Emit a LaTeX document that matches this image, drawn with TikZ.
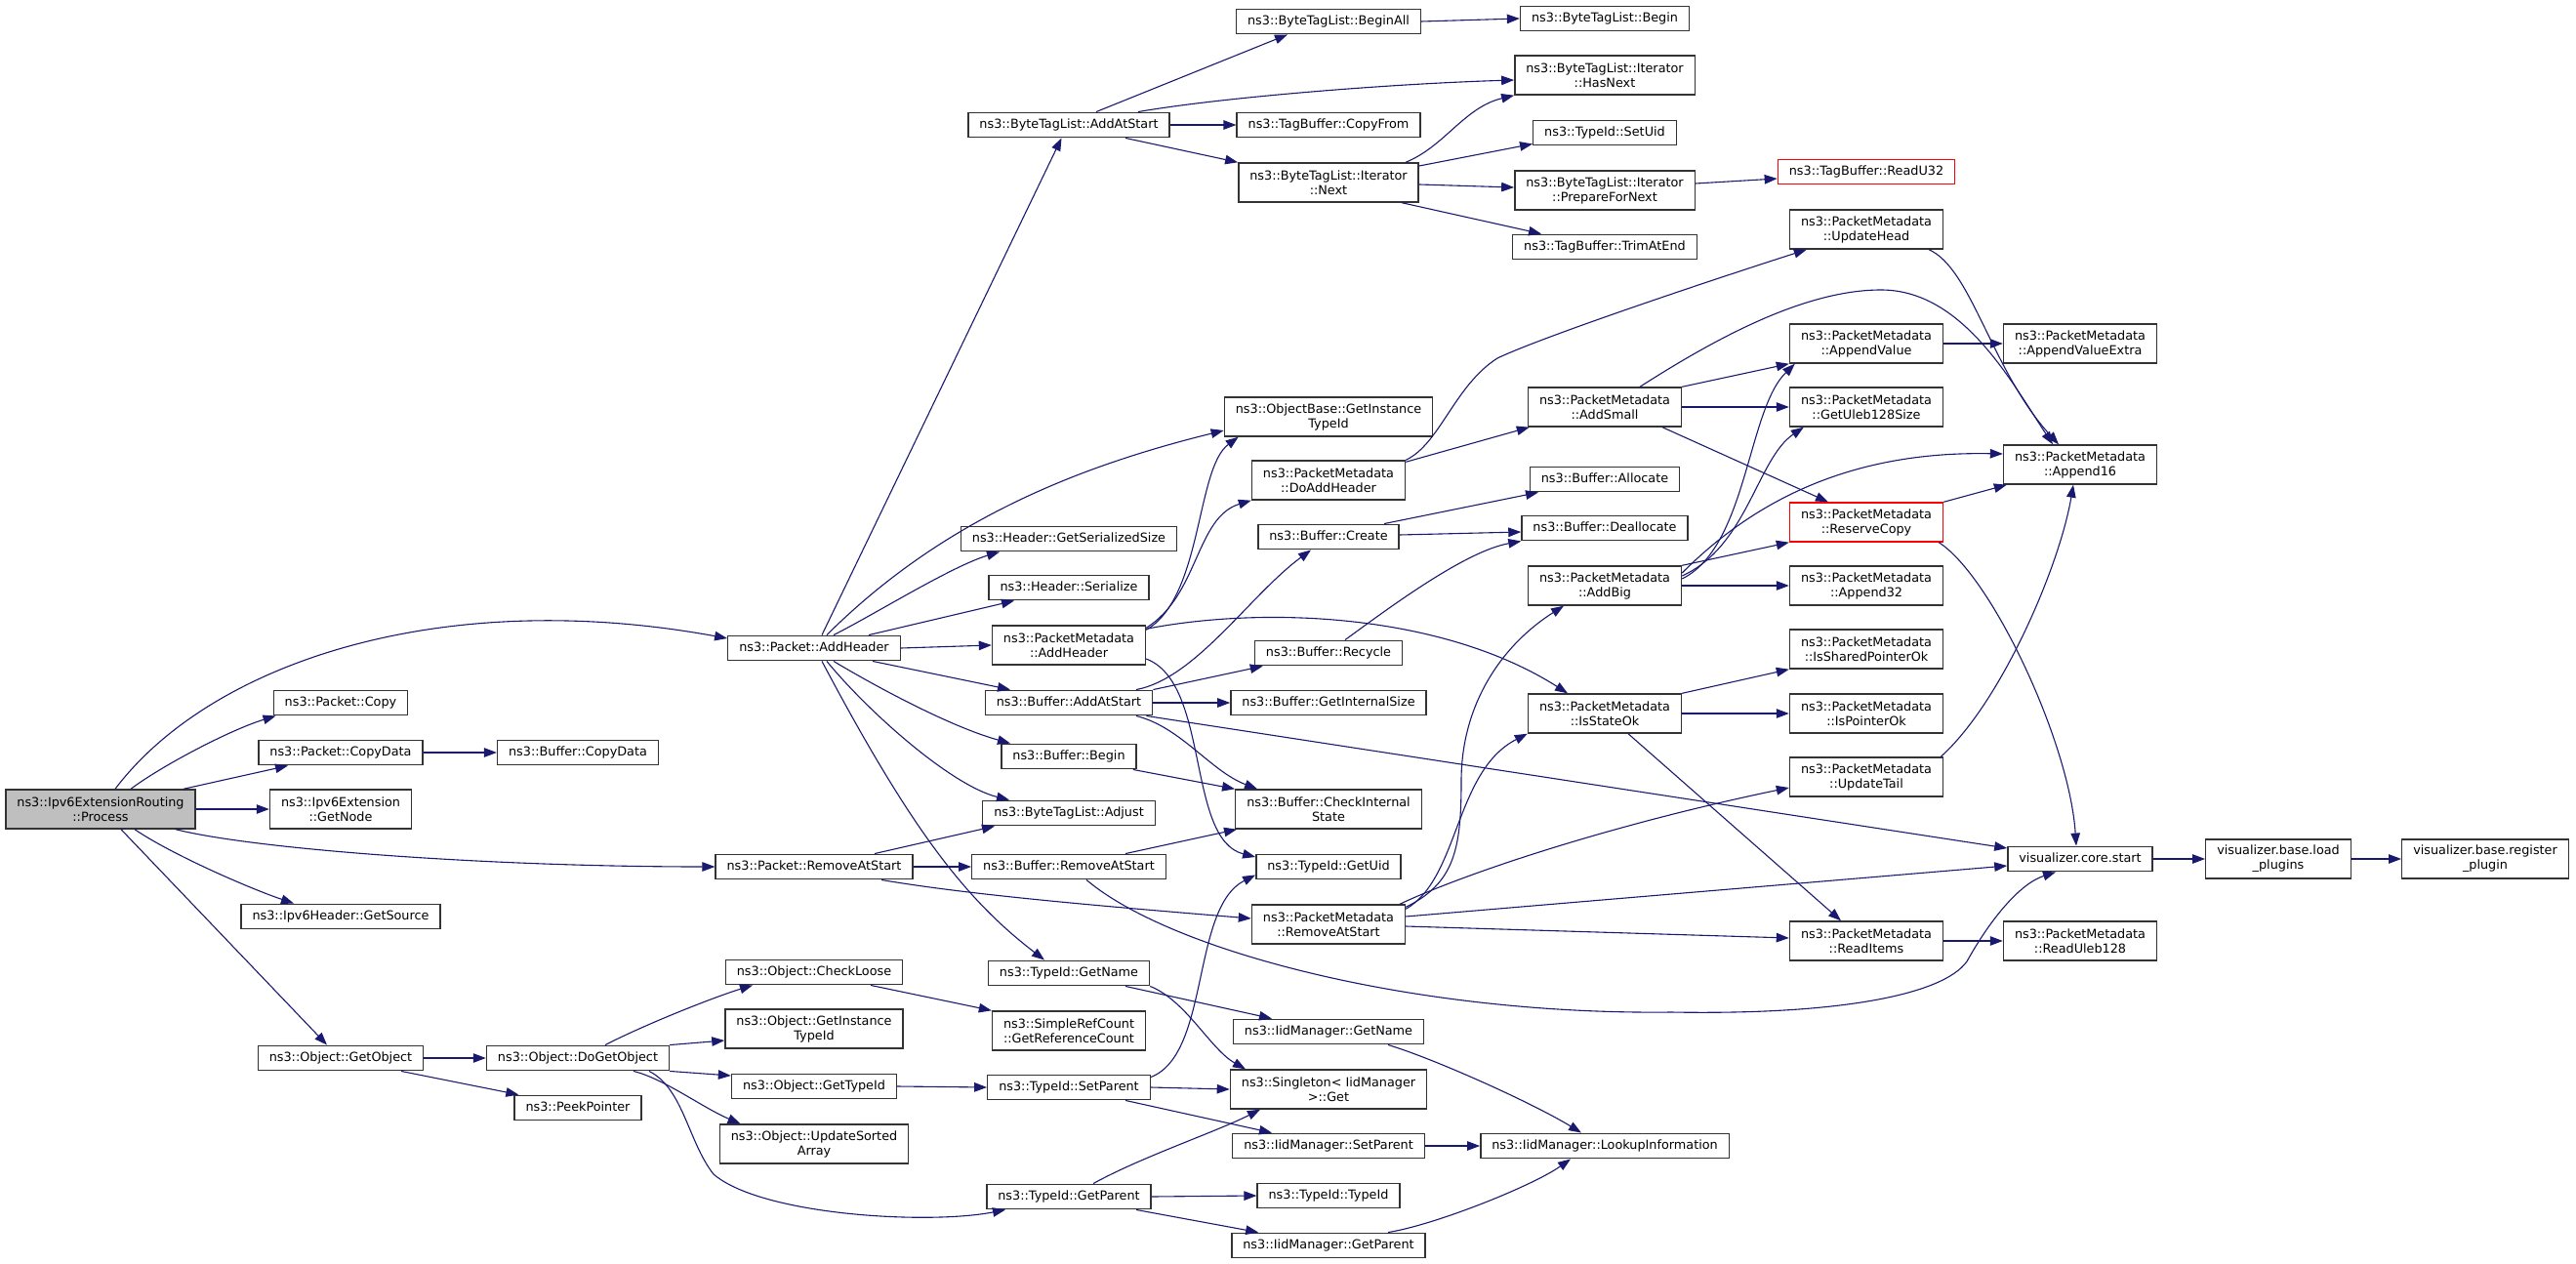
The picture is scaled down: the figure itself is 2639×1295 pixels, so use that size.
\documentclass[tikz,border=0pt]{standalone}
\usepackage{fontspec}
\setmainfont{DejaVu Sans}
\usetikzlibrary{arrows.meta}
\definecolor{edgeblue}{HTML}{191970}
\definecolor{rootgray}{HTML}{BFBFBF}
\definecolor{boxline}{HTML}{333333}
\newcommand{\fnfont}{\fontsize{12.8}{15}\selectfont}

\begin{document}
\begin{tikzpicture}[x=1pt,y=-1pt,>={Triangle[length=13pt,width=9.5pt]},
  fbox/.style={draw=boxline,line width=1.4pt,fill=white,font=\fnfont,align=center,inner xsep=11.5pt,inner ysep=0pt},
  func/.style={fbox,minimum height=25.5pt,text height=9.6pt,text depth=3pt},
  func2/.style={fbox,minimum height=40pt},
  root/.style={func2,fill=rootgray},
  trunc/.style={draw=red},
  call/.style={->,draw=edgeblue,line width=1.1pt}]
\useasboundingbox (0,0) rectangle (2639,1295);

\node[root] (process) at (103,829) {ns3::Ipv6ExtensionRouting\\::Process};

\node[func] (pcopy) at (349,720) {ns3::Packet::Copy};
\node[func] (pcopydata) at (349,771) {ns3::Packet::CopyData};
\node[func2] (getnode) at (349,829) {ns3::Ipv6Extension\\::GetNode};
\node[func] (getsource) at (349,939) {ns3::Ipv6Header::GetSource};
\node[func] (getobject) at (349,1084) {ns3::Object::GetObject};

\node[func] (bcopydata) at (592,771) {ns3::Buffer::CopyData};
\node[func] (dogetobject) at (592,1084) {ns3::Object::DoGetObject};
\node[func] (peekptr) at (592,1135) {ns3::PeekPointer};

\node[func] (paddheader) at (834,664) {ns3::Packet::AddHeader};
\node[func] (premove) at (834,888) {ns3::Packet::RemoveAtStart};
\node[func] (checkloose) at (834,996) {ns3::Object::CheckLoose};
\node[func2] (ogetinst) at (834,1054) {ns3::Object::GetInstance\\TypeId};
\node[func] (ogettypeid) at (834,1113) {ns3::Object::GetTypeId};
\node[func2] (updsorted) at (834,1172) {ns3::Object::UpdateSorted\\Array};

\node[func] (btladdstart) at (1095,128) {ns3::ByteTagList::AddAtStart};
\node[func] (hgetser) at (1095,552) {ns3::Header::GetSerializedSize};
\node[func] (hser) at (1095,602) {ns3::Header::Serialize};
\node[func2] (pmaddheader) at (1095,661) {ns3::PacketMetadata\\::AddHeader};
\node[func] (baddstart) at (1095,720) {ns3::Buffer::AddAtStart};
\node[func] (bbegin) at (1095,775) {ns3::Buffer::Begin};
\node[func] (btladjust) at (1095,833) {ns3::ByteTagList::Adjust};
\node[func] (bremove) at (1095,888) {ns3::Buffer::RemoveAtStart};
\node[func] (tgetname) at (1095,997) {ns3::TypeId::GetName};
\node[func2] (refcount) at (1095,1056) {ns3::SimpleRefCount\\::GetReferenceCount};
\node[func] (tsetparent) at (1095,1114) {ns3::TypeId::SetParent};
\node[func] (tgetparent) at (1095,1226) {ns3::TypeId::GetParent};

\node[func] (beginall) at (1361,22) {ns3::ByteTagList::BeginAll};
\node[func] (copyfrom) at (1361,128) {ns3::TagBuffer::CopyFrom};
\node[func2] (itnext) at (1361,187) {ns3::ByteTagList::Iterator\\::Next};
\node[func2] (obgetinst) at (1361,427) {ns3::ObjectBase::GetInstance\\TypeId};
\node[func2] (doaddheader) at (1361,492) {ns3::PacketMetadata\\::DoAddHeader};
\node[func] (bcreate) at (1361,550) {ns3::Buffer::Create};
\node[func] (brecycle) at (1361,669) {ns3::Buffer::Recycle};
\node[func] (bgetint) at (1361,720) {ns3::Buffer::GetInternalSize};
\node[func2] (bcheck) at (1361,829) {ns3::Buffer::CheckInternal\\State};
\node[func] (tgetuid) at (1361,888) {ns3::TypeId::GetUid};
\node[func2] (pmremove) at (1361,947) {ns3::PacketMetadata\\::RemoveAtStart};
\node[func] (iidgetname) at (1361,1057) {ns3::IidManager::GetName};
\node[func2] (singleton) at (1361,1116) {ns3::Singleton< IidManager\\>::Get};
\node[func] (iidsetparent) at (1361,1174) {ns3::IidManager::SetParent};
\node[func] (ttypeid) at (1361,1225) {ns3::TypeId::TypeId};
\node[func] (iidgetparent) at (1361,1276) {ns3::IidManager::GetParent};

\node[func] (btlbegin) at (1644,19) {ns3::ByteTagList::Begin};
\node[func2] (hasnext) at (1644,77) {ns3::ByteTagList::Iterator\\::HasNext};
\node[func] (setuid) at (1644,136) {ns3::TypeId::SetUid};
\node[func2] (prepnext) at (1644,195) {ns3::ByteTagList::Iterator\\::PrepareForNext};
\node[func] (trimend) at (1644,253) {ns3::TagBuffer::TrimAtEnd};
\node[func2] (addsmall) at (1644,417) {ns3::PacketMetadata\\::AddSmall};
\node[func] (ballocate) at (1644,491) {ns3::Buffer::Allocate};
\node[func] (bdealloc) at (1644,541) {ns3::Buffer::Deallocate};
\node[func2] (addbig) at (1644,600) {ns3::PacketMetadata\\::AddBig};
\node[func2] (isstateok) at (1644,731) {ns3::PacketMetadata\\::IsStateOk};
\node[func] (lookup) at (1644,1174) {ns3::IidManager::LookupInformation};

\node[func,trunc] (readu32) at (1912,176) {ns3::TagBuffer::ReadU32};
\node[func2] (updhead) at (1912,235) {ns3::PacketMetadata\\::UpdateHead};
\node[func2] (appvalue) at (1912,352) {ns3::PacketMetadata\\::AppendValue};
\node[func2] (getuleb) at (1912,417) {ns3::PacketMetadata\\::GetUleb128Size};
\node[func2,trunc] (reserve) at (1912,535) {ns3::PacketMetadata\\::ReserveCopy};
\node[func2] (append32) at (1912,600) {ns3::PacketMetadata\\::Append32};
\node[func2] (isshared) at (1912,665) {ns3::PacketMetadata\\::IsSharedPointerOk};
\node[func2] (isptrok) at (1912,731) {ns3::PacketMetadata\\::IsPointerOk};
\node[func2] (updtail) at (1912,796) {ns3::PacketMetadata\\::UpdateTail};
\node[func2] (readitems) at (1912,964) {ns3::PacketMetadata\\::ReadItems};

\node[func2] (appvalextra) at (2131,352) {ns3::PacketMetadata\\::AppendValueExtra};
\node[func2] (append16) at (2131,476) {ns3::PacketMetadata\\::Append16};
\node[func] (vstart) at (2131,880) {visualizer.core.start};
\node[func2] (readuleb) at (2131,964) {ns3::PacketMetadata\\::ReadUleb128};

\node[func2] (vload) at (2334,880) {visualizer.base.load\\\_plugins};
\node[func2] (vregister) at (2546,880) {visualizer.base.register\\\_plugin};

\draw[call] ([xshift=15pt]process.north) .. controls (215,680) and (450,600) .. ([yshift=10pt]paddheader.west);
\draw[call] ([xshift=31pt]process.north) .. controls (165,785) and (235,748) .. ([xshift=3pt]pcopy.south west);
\draw[call] ([xshift=85pt]process.north) -- ([xshift=-54pt]pcopydata.south);
\draw[call] (process.east) -- (getnode.west);
\draw[call] ([xshift=77pt]process.south) .. controls (260,870) and (500,888) .. (premove.west);
\draw[call] ([xshift=35pt]process.south) .. controls (175,875) and (255,910) .. ([xshift=-48pt]getsource.north);
\draw[call] ([xshift=21pt]process.south) -- ([xshift=-14pt]getobject.north);
\draw[call] (pcopydata.east) -- (bcopydata.west);

\draw[call] ([xshift=8pt]paddheader.north) -- ([xshift=-7.5pt]btladdstart.south);
\draw[call] ([xshift=13pt]paddheader.north) .. controls (967,531) and (1108,477) .. ([yshift=-14pt]obgetinst.west);
\draw[call] ([xshift=20pt]paddheader.north) .. controls (895,630) and (975,580) .. ([xshift=-71pt]hgetser.south);
\draw[call] ([xshift=56pt]paddheader.north) -- ([xshift=-56pt]hser.south);
\draw[call] (paddheader.east) -- (pmaddheader.west);
\draw[call] ([xshift=60pt]paddheader.south) -- ([xshift=-60pt]baddstart.north);
\draw[call] ([xshift=20pt]paddheader.south) .. controls (900,705) and (975,745) .. ([xshift=-60pt]bbegin.north);
\draw[call] ([xshift=13pt]paddheader.south) .. controls (890,730) and (975,805) .. ([xshift=-61pt]btladjust.north);
\draw[call] ([xshift=8pt]paddheader.south) .. controls (935,853) and (990,922) .. ([xshift=-25pt]tgetname.north);

\draw[call] ([xshift=62pt]premove.north) -- ([xshift=-76pt]btladjust.south);
\draw[call] (premove.east) -- (bremove.west);
\draw[call] ([xshift=69pt]premove.south) .. controls (1000,918) and (1150,930) .. ([yshift=6pt]pmremove.west);
\draw[call] ([xshift=58pt]bremove.north) -- ([xshift=2pt]bcheck.south west);
\draw[call] ([xshift=18pt]bremove.south) .. controls (1200,975) and (1450,1040) .. (1712,1037) .. controls (1880,1040) and (1990,1020) .. (2015,985) .. controls (2040,940) and (2070,905) .. ([xshift=-25pt]vstart.south);

\draw[call] ([xshift=28pt]btladdstart.north) -- ([xshift=-42pt]beginall.south);
\draw[call] ([xshift=71pt]btladdstart.north) .. controls (1250,100) and (1420,86) .. ([yshift=-5pt]hasnext.west);
\draw[call] (btladdstart.east) -- (copyfrom.west);
\draw[call] ([xshift=58pt]btladdstart.south) -- (itnext.north west);
\draw[call] (beginall.east) -- (btlbegin.west);
\draw[call] ([xshift=79pt]itnext.north) .. controls (1480,150) and (1500,110) .. (hasnext.south west);
\draw[call] ([yshift=17pt]itnext.east) -- ([yshift=2pt]setuid.south west);
\draw[call] ([yshift=-2pt]itnext.east) -- ([yshift=3pt]prepnext.west);
\draw[call] ([xshift=75pt]itnext.south) -- ([xshift=-65pt]trimend.north);
\draw[call] ([yshift=7pt]prepnext.east) -- ([yshift=-7pt]readu32.west);

\draw[call] ([yshift=-5pt]pmaddheader.north east) .. controls (1232,612) and (1225,480) .. ([xshift=15pt]obgetinst.south west);
\draw[call] ([yshift=-3pt]pmaddheader.north east) .. controls (1228,610) and (1225,530) .. (doaddheader.south west);
\draw[call] ([yshift=-4pt]pmaddheader.north east) .. controls (1300,620) and (1480,630) .. ([xshift=-38pt]isstateok.north);
\draw[call] ([yshift=-14pt]pmaddheader.east) .. controls (1240,700) and (1215,860) .. ([yshift=10pt]tgetuid.west);

\draw[call] ([xshift=69pt]baddstart.north) .. controls (1225,695) and (1280,610) .. ([xshift=-18pt]bcreate.south);
\draw[call] (baddstart.north east) -- ([xshift=9pt]brecycle.south west);
\draw[call] (baddstart.east) -- (bgetint.west);
\draw[call] ([xshift=69pt]baddstart.south) .. controls (1210,745) and (1240,790) .. ([xshift=23pt]bcheck.north west);
\draw[call] ([xshift=-7pt]baddstart.south east) -- ([yshift=11pt]vstart.west);
\draw[call] ([xshift=-4pt]bbegin.south east) -- (bcheck.north west);

\draw[call] ([xshift=57pt]bcreate.north) -- ([xshift=-68pt]ballocate.south);
\draw[call] ([yshift=2pt]bcreate.east) -- ([yshift=-4pt]bdealloc.west);
\draw[call] ([xshift=17pt]brecycle.north) .. controls (1420,625) and (1500,565) .. (bdealloc.south west);

\draw[call] (doaddheader.north east) .. controls (1475,455) and (1490,395) .. (1534,367) .. controls (1580,345) and (1750,288) .. ([xshift=18pt]updhead.south west);
\draw[call] ([yshift=-2pt]doaddheader.north east) -- ([xshift=2pt]addsmall.south west);

\draw[call] (addsmall.north east) -- (appvalue.south west);
\draw[call] (addsmall.east) -- (getuleb.west);
\draw[call] ([xshift=59pt]addsmall.south) -- ([xshift=-39pt]reserve.north);
\draw[call] ([xshift=36pt]addsmall.north) .. controls (1760,345) and (1850,297) .. (1927,297) .. controls (2010,297) and (2060,390) .. ([xshift=-28pt]append16.north);
\draw[call] ([xshift=64pt]updhead.south) .. controls (2020,275) and (2040,380) .. ([xshift=-22pt]append16.north);
\draw[call] (appvalue.east) -- (appvalextra.west);
\draw[call] (reserve.north east) -- ([xshift=4pt]append16.south west);
\draw[call] ([xshift=-5pt]reserve.south east) .. controls (2040,590) and (2120,760) .. ([xshift=-4pt]vstart.north);

\draw[call] ([yshift=7pt]addbig.east) .. controls (1790,560) and (1790,420) .. ([xshift=6pt]appvalue.south west);
\draw[call] ([yshift=10pt]addbig.east) .. controls (1790,560) and (1800,470) .. ([xshift=15pt]getuleb.south west);
\draw[call] ([yshift=13pt]addbig.east) .. controls (1800,510) and (1900,462) .. ([yshift=11pt]append16.west);
\draw[call] (addbig.north east) -- (reserve.south west);
\draw[call] (addbig.east) -- (append32.west);

\draw[call] (isstateok.north east) -- (isshared.south west);
\draw[call] (isstateok.east) -- (isptrok.west);
\draw[call] ([xshift=24pt]isstateok.south) -- ([xshift=-26pt]readitems.north);
\draw[call] ([xshift=-3pt]updtail.north east) .. controls (2050,720) and (2110,580) .. ([xshift=-7pt]append16.south);

\draw[call] ([yshift=-3pt]pmremove.north east) .. controls (1490,905) and (1497,870) .. (1497,800) .. controls (1497,720) and (1540,660) .. ([xshift=-42pt]addbig.south);
\draw[call] ([yshift=-5pt]pmremove.north east) .. controls (1495,900) and (1490,790) .. (isstateok.south west);
\draw[call] ([xshift=73pt]pmremove.north) .. controls (1500,895) and (1650,845) .. ([yshift=-11pt]updtail.west);
\draw[call] ([yshift=8pt]pmremove.east) -- ([yshift=-7pt]vstart.west);
\draw[call] ([yshift=-2pt]pmremove.east) -- ([yshift=3pt]readitems.west);
\draw[call] (readitems.east) -- (readuleb.west);
\draw[call] (vstart.east) -- (vload.west);
\draw[call] (vload.east) -- (vregister.west);

\draw[call] (getobject.east) -- (dogetobject.west);
\draw[call] ([xshift=62pt]getobject.south) -- ([xshift=5pt]peekptr.north west);
\draw[call] ([xshift=28pt]dogetobject.north) .. controls (660,1050) and (730,1022) .. ([xshift=-63pt]checkloose.south);
\draw[call] (dogetobject.north east) -- ([yshift=-12pt]ogetinst.west);
\draw[call] (dogetobject.south east) -- ([yshift=11pt]ogettypeid.west);
\draw[call] ([xshift=57pt]dogetobject.south) .. controls (680,1105) and (720,1135) .. ([xshift=22pt]updsorted.north west);
\draw[call] ([xshift=73pt]dogetobject.south) .. controls (700,1115) and (705,1170) .. (731,1203) .. controls (780,1245) and (950,1255) .. ([xshift=-65pt]tgetparent.south);

\draw[call] ([xshift=58pt]checkloose.south) -- (refcount.north west);
\draw[call] (ogettypeid.east) -- (tsetparent.west);
\draw[call] ([xshift=58pt]tgetname.south) -- ([xshift=-58pt]iidgetname.north);
\draw[call] (tgetname.south east) .. controls (1215,1025) and (1240,1075) .. ([xshift=-85pt]singleton.north);
\draw[call] ([yshift=-3pt]tsetparent.north east) .. controls (1240,1080) and (1220,930) .. ([yshift=5pt]tgetuid.south west);
\draw[call] (tsetparent.east) -- (singleton.west);
\draw[call] ([xshift=58pt]tsetparent.south) -- ([xshift=-58pt]iidsetparent.north);
\draw[call] ([xshift=25pt]tgetparent.north) .. controls (1170,1185) and (1245,1160) .. ([xshift=-70pt]singleton.south);
\draw[call] (tgetparent.east) -- (ttypeid.west);
\draw[call] ([xshift=69pt]tgetparent.south) -- ([xshift=28pt]iidgetparent.north west);
\draw[call] ([xshift=61pt]iidgetname.south) .. controls (1470,1085) and (1570,1130) .. ([xshift=-24pt]lookup.north);
\draw[call] (iidsetparent.east) -- (lookup.west);
\draw[call] ([xshift=61pt]iidgetparent.north) .. controls (1470,1255) and (1570,1215) .. ([xshift=-35pt]lookup.south);
\end{tikzpicture}
\end{document}
